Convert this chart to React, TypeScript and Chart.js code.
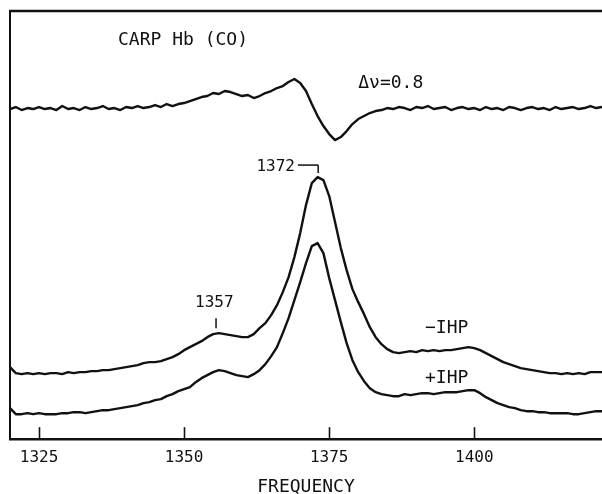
import React, { useEffect, useRef } from "react";
import { Chart, registerables } from "chart.js";

Chart.register(...registerables);

// ---- data (intensity in arbitrary units) ----
const frequency = [
  1320, 1321, 1322, 1323, 1324, 1325, 1326, 1327, 1328, 1329,
  1330, 1331, 1332, 1333, 1334, 1335, 1336, 1337, 1338, 1339,
  1340, 1341, 1342, 1343, 1344, 1345, 1346, 1347, 1348, 1349,
  1350, 1351, 1352, 1353, 1354, 1355, 1356, 1357, 1358, 1359,
  1360, 1361, 1362, 1363, 1364, 1365, 1366, 1367, 1368, 1369,
  1370, 1371, 1372, 1373, 1374, 1375, 1376, 1377, 1378, 1379,
  1380, 1381, 1382, 1383, 1384, 1385, 1386, 1387, 1388, 1389,
  1390, 1391, 1392, 1393, 1394, 1395, 1396, 1397, 1398, 1399,
  1400, 1401, 1402, 1403, 1404, 1405, 1406, 1407, 1408, 1409,
  1410, 1411, 1412, 1413, 1414, 1415, 1416, 1417, 1418, 1419,
  1420, 1421, 1422,
];

const differenceSpectrum = [
  330, 332, 329, 331, 330, 332, 330, 331, 329, 333,
  330, 331, 329, 332, 330, 331, 333, 330, 331, 329,
  332, 331, 333, 331, 332, 334, 332, 335, 333, 335,
  336, 338, 340, 342, 343, 346, 345, 348, 347, 345,
  343, 344, 341, 343, 346, 348, 351, 353, 357, 360,
  356, 348, 335, 323, 313, 305, 299, 302, 308, 315,
  320, 323, 326, 328, 329, 331, 330, 332, 331, 329,
  332, 331, 333, 330, 331, 332, 329, 331, 332, 330,
  331, 329, 332, 330, 331, 329, 332, 331, 329, 331,
  332, 330, 331, 329, 332, 330, 331, 332, 330, 331,
  333, 331, 332,
];

const minusIHP = [
  72, 66, 65, 66, 65, 66, 65, 66, 66, 65,
  67, 66, 67, 67, 68, 68, 69, 69, 70, 71,
  72, 73, 74, 76, 77, 77, 78, 80, 82, 85,
  89, 92, 95, 98, 102, 105, 106, 105, 104, 103,
  102, 102, 105, 111, 116, 124, 134, 147, 162, 182,
  206, 234, 256, 262, 259, 243, 217, 191, 169, 150,
  137, 125, 112, 102, 95, 90, 87, 86, 87, 88,
  87, 89, 88, 89, 88, 89, 89, 90, 91, 92,
  91, 89, 86, 83, 80, 77, 75, 73, 71, 70,
  69, 68, 67, 66, 66, 65, 66, 65, 66, 65,
  67, 67, 67,
];

const plusIHP = [
  31, 25, 25, 26, 25, 26, 25, 25, 25, 26,
  26, 27, 27, 26, 27, 28, 29, 29, 30, 31,
  32, 33, 34, 36, 37, 39, 40, 43, 45, 48,
  50, 52, 57, 61, 64, 67, 69, 68, 66, 64,
  63, 62, 65, 69, 75, 83, 92, 106, 121, 139,
  157, 176, 193, 196, 186, 161, 139, 117, 96, 79,
  67, 58, 51, 47, 45, 44, 43, 43, 45, 44,
  45, 46, 46, 45, 46, 47, 47, 47, 48, 49,
  49, 46, 42, 39, 36, 34, 32, 31, 29, 28,
  28, 27, 27, 26, 26, 26, 26, 25, 25, 26,
  27, 28, 28,
];

const xTickValues = [1325, 1350, 1375, 1400];

const FONT = "'DejaVu Sans Mono', 'Liberation Mono', monospace";
const INK = "#111111";

// text annotations anchored in data coordinates
const annotations = [
  { text: "CARP Hb (CO)", f: 1338.6, v: 399, align: "left", size: 18 },
  { text: "\u0394\u03BD=0.8", f: 1380.0, v: 356, align: "left", size: 18 },
  { text: "1372", f: 1369.1, v: 272, align: "right", size: 16 },
  { text: "1357", f: 1355.2, v: 136, align: "center", size: 16 },
  { text: "\u2212IHP", f: 1391.5, v: 111, align: "left", size: 18 },
  { text: "+IHP", f: 1391.5, v: 61, align: "left", size: 18 },
];

// marker lines for peak labels: [f1, v1, f2, v2]
const markerLines = [
  [1369.6, 274, 1373.1, 274],
  [1373.1, 274, 1373.1, 266],
  [1355.5, 121, 1355.5, 111],
];

const decorPlugin = {
  id: "decor",
  afterDraw(chart: any) {
    const { ctx, chartArea, scales } = chart;
    const xs = scales.x;
    const ys = scales.y;
    ctx.save();
    ctx.strokeStyle = INK;
    ctx.fillStyle = INK;
    // top frame line
    ctx.lineWidth = 2.5;
    ctx.beginPath();
    ctx.moveTo(chartArea.left - 1, chartArea.top);
    ctx.lineTo(chartArea.right, chartArea.top);
    ctx.stroke();
    // inward tick marks
    ctx.lineWidth = 1.6;
    xs.ticks.forEach((t: any) => {
      const px = Math.round(xs.getPixelForValue(t.value)) + 0.5;
      ctx.beginPath();
      ctx.moveTo(px, chartArea.bottom);
      ctx.lineTo(px, chartArea.bottom - 12);
      ctx.stroke();
    });
    // marker lines
    ctx.lineWidth = 1.5;
    markerLines.forEach(([f1, v1, f2, v2]) => {
      ctx.beginPath();
      ctx.moveTo(xs.getPixelForValue(f1), ys.getPixelForValue(v1));
      ctx.lineTo(xs.getPixelForValue(f2), ys.getPixelForValue(v2));
      ctx.stroke();
    });
    // labels
    ctx.textBaseline = "middle";
    annotations.forEach((a) => {
      ctx.font = `${a.size}px ${FONT}`;
      ctx.textAlign = a.align as CanvasTextAlign;
      ctx.fillText(a.text, xs.getPixelForValue(a.f), ys.getPixelForValue(a.v));
    });
    ctx.restore();
  },
};

export default function App() {
  const canvasRef = useRef<HTMLCanvasElement | null>(null);

  useEffect(() => {
    const canvas = canvasRef.current;
    if (!canvas) return;
    const mk = (vals: number[]) => frequency.map((f, i) => ({ x: f, y: vals[i] }));
    const lineStyle = {
      borderColor: INK,
      borderWidth: 2.4,
      pointRadius: 0,
      tension: 0,
      fill: false,
      borderJoinStyle: "round" as const,
    };
    const chart = new Chart(canvas, {
      type: "line",
      data: {
        datasets: [
          { label: "difference", data: mk(differenceSpectrum), ...lineStyle },
          { label: "-IHP", data: mk(minusIHP), ...lineStyle },
          { label: "+IHP", data: mk(plusIHP), ...lineStyle },
        ],
      },
      options: {
        animation: false,
        responsive: false,
        devicePixelRatio: 1,
        layout: { padding: { left: 10, top: 11, right: 0, bottom: 0 } },
        plugins: { legend: { display: false }, tooltip: { enabled: false } },
        scales: {
          x: {
            type: "linear",
            min: 1320,
            max: 1422,
            afterBuildTicks: (axis: any) => {
              axis.ticks = xTickValues.map((v) => ({ value: v }));
            },
            ticks: {
              color: INK,
              padding: 9,
              maxRotation: 0,
              font: { family: FONT, size: 16 },
              callback: (v: any) => String(v),
            },
            grid: { display: false, drawTicks: false },
            border: { display: true, color: INK, width: 2.5 },
            title: {
              display: true,
              text: "FREQUENCY",
              color: INK,
              font: { family: FONT, size: 18 },
              padding: { top: 0, bottom: -4 },
            },
          },
          y: {
            type: "linear",
            min: 0,
            max: 428,
            ticks: { display: false },
            grid: { display: false, drawTicks: false },
            border: { display: true, color: INK, width: 2 },
          },
        },
      },
      plugins: [decorPlugin],
    });
    return () => chart.destroy();
  }, []);

  return (
    <div style={{ position: "absolute", left: 0, top: 0, width: 602, height: 494, background: "#fff" }}>
      <canvas ref={canvasRef} width={602} height={494} style={{ display: "block" }} />
    </div>
  );
}
